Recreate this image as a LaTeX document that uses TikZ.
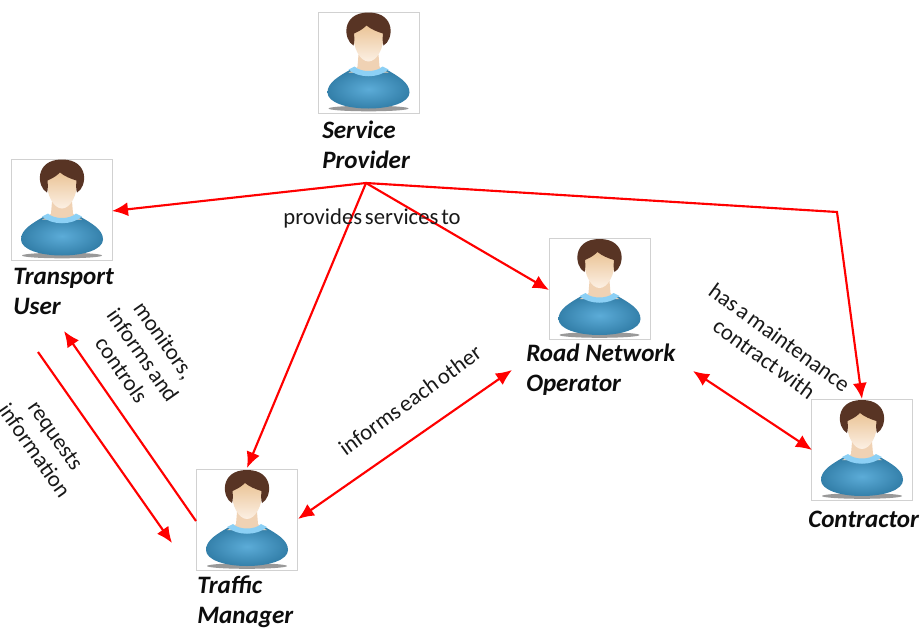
\documentclass[tikz,border=0pt]{standalone}
\usepackage{fontspec}
\setmainfont{Carlito}
\newfontfamily\labelfont[WordSpace=0.55]{Carlito}
\usetikzlibrary{arrows.meta}
\definecolor{hairc}{RGB}{88,52,36}
\definecolor{faceT}{RGB}{232,190,140}
\definecolor{faceB}{RGB}{252,240,228}
\definecolor{neckc}{RGB}{240,210,180}
\definecolor{collarc}{RGB}{140,208,245}
\definecolor{bodyI}{RGB}{92,172,216}
\definecolor{bodyO}{RGB}{52,128,170}
\definecolor{redl}{RGB}{255,0,0}
\tikzset{
  x=0.75pt,y=-0.75pt,
  personbox/.style={draw=black!18,line width=0.5pt,fill=white,minimum width=76pt,minimum height=76pt,inner sep=0pt},
  rolename/.style={font=\fontsize{18.8}{22.5}\selectfont\bfseries\itshape,align=left,anchor=west,inner sep=0pt,text=black!95},
  linklabel/.style={font=\labelfont\fontsize{17}{19.5}\selectfont,align=center,inner sep=0pt,text=black!90},
  link/.style={draw=redl,line width=1.6pt,-{Latex[length=12pt,width=10.5pt]}},
  bothlink/.style={draw=redl,line width=1.6pt,{Latex[length=12pt,width=10.5pt]}-{Latex[length=12pt,width=10.5pt]}},
  pics/person/.style={code={
    \fill[black!50,opacity=.8] (0,46) ellipse (40 and 2.8);
    \shade[inner color=bodyI,outer color=bodyO]
      (-41,30) .. controls (-41,20) and (-30,14) .. (-18,7)
      -- (18,7) .. controls (30,14) and (41,20) .. (41,30)
      .. controls (41,40) and (22,46) .. (0,46)
      .. controls (-22,46) and (-41,40) .. (-41,30) -- cycle;
    \fill[neckc] (-10,-8) -- (10,-8) -- (11,4) .. controls (13,8) and (18,9) .. (20,10)
      -- (-20,10) .. controls (-18,9) and (-13,8) .. (-11,4) -- cycle;
    \fill[collarc] (-20,7) -- (-14,4) .. controls (-8,10) and (8,10) .. (14,4) -- (20,7)
      .. controls (10,16) and (-10,16) .. (-20,7) -- cycle;
    \shade[top color=faceT,bottom color=faceB]
      (-15,-30) .. controls (-15,-42) and (15,-42) .. (15,-30)
      .. controls (16,-14) and (8,-1) .. (0,-1)
      .. controls (-8,-1) and (-16,-14) .. (-15,-30) -- cycle;
    \fill[hairc] (-15,-17) .. controls (-25,-22) and (-28,-50) .. (0,-50)
      .. controls (28,-50) and (25,-22) .. (15,-17)
      .. controls (14,-20) and (14,-24) .. (14.5,-29)
      .. controls (8,-31) and (3,-33) .. (-2,-37)
      .. controls (-6,-33) and (-10,-31) .. (-14.5,-29)
      .. controls (-14,-24) and (-14,-20) .. (-15,-17) -- cycle;
  }}
}
\begin{document}
\begin{tikzpicture}
\useasboundingbox (0,0) rectangle (922,628);
% person boxes
\node[personbox] (sp) at (368.5,62.5) {};
\node[personbox] (tu) at (62,209.5) {};
\node[personbox] (rno) at (599.5,289) {};
\node[personbox] (tm) at (247,520) {};
\node[personbox] (con) at (862,450) {};
\pic at (sp) {person};
\pic at (tu) {person};
\pic at (rno) {person};
\pic at (tm) {person};
\pic at (con) {person};
% role names
\node[rolename] (spn) at (322,145) {Service\\[0pt]Provider};
\node[rolename] (tun) at (13,291) {Transport\\[0pt]User};
\node[rolename] (rnon) at (526,370) {Road Network\\[0pt]Operator};
\node[rolename] (tmn) at (197,602) {Traffic\\[0pt]Manager};
\node[rolename] (conn) at (808,519) {Contractor};
% free ends
\coordinate (hub) at (366,183);
\coordinate (bend) at (837,212);
\coordinate (tmout) at (196,521);
\coordinate (tuin) at (64,331);
\coordinate (tuout) at (38,352);
\coordinate (tmin) at (172,543);
\coordinate (tmtop) at (247,468);
\coordinate (tuR) at (112,211);
\coordinate (rnoL) at (549,290);
\coordinate (conT) at (862,399);
\coordinate (rnoS) at (512,370);
\coordinate (tmR) at (298,519);
\coordinate (rnoE) at (693,371);
\coordinate (conL) at (812,450);
% connectors
\draw[link] (hub) -- (tuR);
\draw[link] (hub) -- (tmtop);
\draw[link] (hub) -- (rnoL);
\draw[link] (hub) -- (bend) -- (conT);
\draw[link] (tmout) -- (tuin);
\draw[link] (tuout) -- (tmin);
\draw[bothlink] (tmR) -- (rnoS);
\draw[bothlink] (rnoE) -- (conL);
% labels
\node[linklabel] (l1) at (372,218) {provides services to};
\node[linklabel,rotate=36] (l2) at (410,400) {informs each other};
\node[linklabel,rotate=-36] (l3) at (772,348) {has a maintenance\\contract with};
\node[linklabel,rotate=-55] (l4) at (143,355) {monitors,\\informs and\\controls};
\node[linklabel,rotate=-55] (l5) at (45,443) {requests\\information};
\end{tikzpicture}
\end{document}
